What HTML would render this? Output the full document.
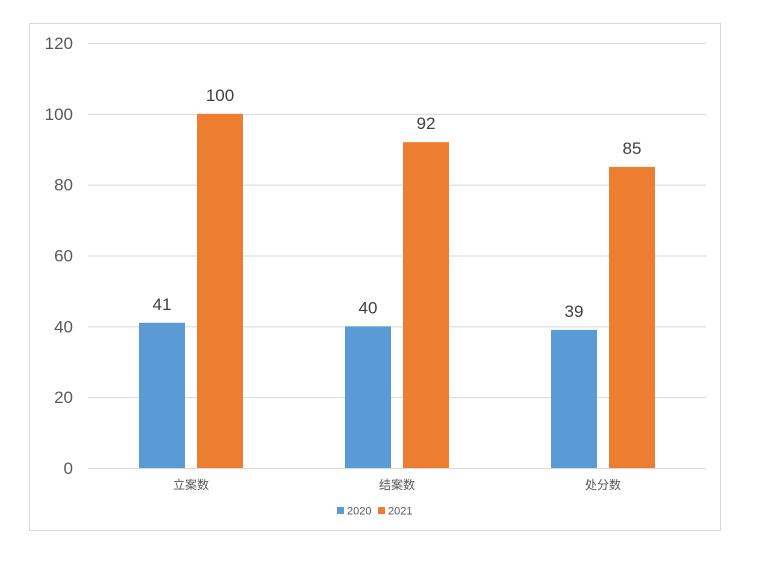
<!DOCTYPE html>
<html><head><meta charset="utf-8"><style>
body{margin:0;background:#fff;}
svg text{font-family:"Liberation Sans","Noto Sans CJK SC",sans-serif;}
</style></head><body>
<svg id="chart" width="761" height="561">
<rect x="29.5" y="23.5" width="691" height="507" fill="#fff" stroke="#d9d9d9"/>
<g id="grid"></g><g id="bars"></g><g id="labels"></g>
<g>
<rect x="337" y="507" width="7" height="7" fill="#5b9bd5"/>
<text x="347" y="514.5" font-size="11" fill="#595959">2020</text>
<rect x="378" y="507" width="7" height="7" fill="#ed7d31"/>
<text x="388" y="514.5" font-size="11" fill="#595959">2021</text>
</g>
</svg>
<script>
const categories=["立案数","结案数","处分数"];
const series2020=[41,40,39];
const series2021=[100,92,85];
const yTicks=[0,20,40,60,80,100,120];
const NS="http://www.w3.org/2000/svg";
const x0=88,x1=706,yBase=468,yTop=43,yMax=120;
const y=v=>yBase-(v/yMax)*(yBase-yTop);
const bw=(x1-x0)/categories.length;
function mk(tag,attrs,parent){const e=document.createElementNS(NS,tag);for(const k in attrs)e.setAttribute(k,attrs[k]);parent.appendChild(e);return e;}
const grid=document.getElementById('grid'),bars=document.getElementById('bars'),labels=document.getElementById('labels');
yTicks.forEach(t=>{
 const l=mk('line',{x1:x0,x2:x1,y1:y(t)+0.5,y2:y(t)+0.5,stroke:'#d9d9d9'},grid);
 
 
 const tx=mk('text',{x:73,y:y(t)+6,'text-anchor':'end','font-size':17,fill:'#595959'},grid);
 tx.textContent=t;
 
 
});
categories.forEach((c,i)=>{
 const cx=x0+bw*(i+0.5);
 [[series2020,'#5b9bd5',cx-52,'2020'],[series2021,'#ed7d31',cx+6,'2021']].forEach(([s,col,bx,nm])=>{
  const v=s[i];
  const r=mk('rect',{x:bx,y:y(v),width:46,height:yBase-y(v),fill:col},bars);
  
  
  const t=mk('text',{x:bx+23,y:y(v)-13,'text-anchor':'middle','font-size':17,fill:'#404040'},labels);
  t.textContent=v;
  
  
 });
 const ct=mk('text',{x:cx,y:489,'text-anchor':'middle','font-size':12,fill:'#595959'},labels);
 ct.textContent=c;
 
 
});
</script>
</body></html>
